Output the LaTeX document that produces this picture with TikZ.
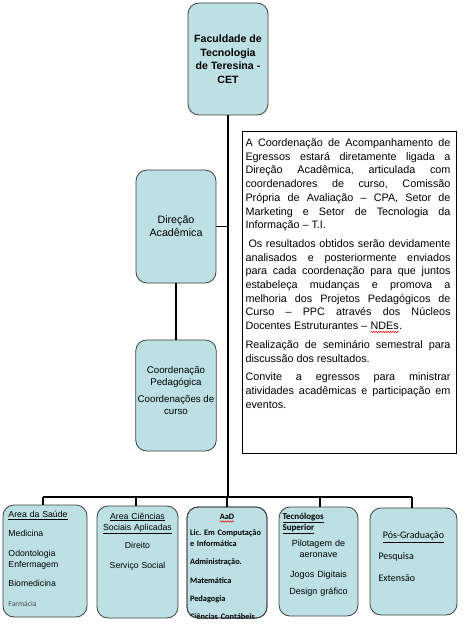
\documentclass[tikz,border=0pt]{standalone}
\usepackage{fontspec}
\setmainfont{Liberation Sans}
\newfontfamily\calibri{Carlito}
\usepackage{xcolor}
\usepackage{tikz}
\usetikzlibrary{positioning, calc, decorations.pathmorphing}

\definecolor{boxfill}{RGB}{188,224,228}
\frenchspacing
% red spell-check squiggle under a word
\newcommand\redwave[2]{\tikz[baseline=(#1.base), x=1pt, y=1pt]{%
  \node[inner sep=0pt, outer sep=0pt] (#1) {#2};
  \draw[red, line width=0.5pt, decorate,
    decoration={snake, amplitude=0.7pt, segment length=2.4pt}]
    ([yshift=-2.3pt]#1.base west) -- ([yshift=-2.3pt]#1.base east);}}

\begin{document}
\begin{tikzpicture}[
  x=1pt, y=-1pt,
  unit/.style={draw=black!75, line width=0.8pt, fill=boxfill,
    rounded corners=11pt, inner sep=2pt, align=center},
  course/.style={unit, minimum height=110},
  coursetxt/.style={inner sep=0pt, anchor=north,
    font=\fontsize{8.7}{11}\selectfont},
  trunk/.style={line width=2.6pt},
  branch/.style={line width=1.3pt},
]
  \useasboundingbox (0,0) rectangle (472,628);

  % Top of the chart
  \node[unit, minimum width=80, minimum height=112,
    font=\bfseries\fontsize{10.6}{13.5}\selectfont] (cet) at (228,59)
    {Faculdade de\\Tecnologia\\de Teresina -\\CET};
  \node[unit, minimum width=80, minimum height=113,
    font=\fontsize{10.7}{13}\selectfont] (dir) at (176,226.5)
    {Direção\\Acadêmica};
  \node[unit, minimum width=80, minimum height=111,
    font=\fontsize{9.7}{12}\selectfont] (coord) at (176,395.5)
    {Coordenação\\Pedagógica\\[5pt]Coordenações de\\curso\\[-1pt]};

  % Text box on the right
  \node[draw, line width=1pt, minimum width=214, minimum height=321,
    inner sep=0pt] (note) at (349,292.5) {};
  \node[inner sep=0pt, anchor=north, text width=205, align=justify,
    font=\fontsize{10.8}{13.7}\selectfont] (notetxt)
    at ([xshift=-1pt, yshift=-7pt]note.north)
    {\hyphenpenalty=10000 \exhyphenpenalty=10000
     A Coordenação de Acompanhamento de\linebreak
     Egressos estará diretamente ligada a\linebreak
     Direção Acadêmica, articulada com\linebreak
     coordenadores de curso, Comissão\linebreak
     Própria de Avaliação – CPA, Setor de\linebreak
     Marketing e Setor de Tecnologia da\linebreak
     Informação – T.I.\par\vspace{5pt}
     \hspace*{3pt}Os resultados obtidos serão devidamente\linebreak
     analisados e posteriormente enviados\linebreak
     para cada coordenação para que juntos\linebreak
     estabeleça mudanças e promova a\linebreak
     melhoria dos Projetos Pedagógicos de\linebreak
     Curso – PPC através dos Núcleos\linebreak
     Docentes Estruturantes – \redwave{ndes}{NDEs}.\par\vspace{5pt}
     Realização de seminário semestral para\linebreak
     discussão dos resultados.\par\vspace{5pt}
     Convite a egressos para ministrar\linebreak
     atividades acadêmicas e participação em\linebreak
     eventos.\par};

  % Course areas
  \node[course, minimum width=84, minimum height=112] (b1) at (45,561) {};
  \node[course, minimum width=81, minimum height=112] (b2) at (137.5,562) {};
  \node[course, minimum width=80, minimum height=111] (b3) at (227,562.5) {};
  \node[course, minimum width=79, minimum height=109] (b4) at (318.5,561.5) {};
  \node[course, minimum width=87, minimum height=107] (b5) at (413.5,561.5) {};

  \node[coursetxt, text width=76, xshift=1.5pt, yshift=-6.5pt] (t1) at (b1.north)
    {\raggedright\underline{Area da Saúde}\\[8pt]Medicina\\[8.5pt]Odontologia\\
     Enfermagem\\[8pt]Biomedicina\\[9pt]%
     {\calibri\fontsize{7.6}{9}\selectfont\color{black!70}Farmácia}\par};
  \node[coursetxt, text width=76, yshift=-7pt] (t2) at (b2.north)
    {\centering\underline{Area Ciências}\\\underline{Sociais Aplicadas}\\[7pt]%
     Direito\\[9pt]Serviço Social\par};
  \begin{scope}
    \clip[rounded corners=11pt] (b3.north west) rectangle (b3.south east);
    \node[coursetxt, text width=74, yshift=-7pt,
      font=\calibri\bfseries\fontsize{8.3}{10.5}\selectfont] (t3) at (b3.north)
      {{\centering\redwave{aad}{AaD}\par}\vspace{6pt}
       {\raggedright Lic. Em Computação\\e Informática\\[8pt]%
        Administração.\\[8pt]Matemática\\[8pt]Pedagogia\\[7.5pt]%
        Ciências Contábeis\par}};
  \end{scope}
  \node[unit, fill=none, minimum width=80, minimum height=111] (b3edge)
    at (b3) {};
  \node[coursetxt, text width=72, yshift=-6pt,
    font=\fontsize{9}{11.5}\selectfont] (t4) at (b4.north)
    {{\calibri\bfseries\raggedright\underline{Tecnólogos}\\\underline{Superior}\par}
     \vspace{4pt}
     {\centering Pilotagem de\\aeronave\\[8pt]Jogos Digitais\\[6pt]%
      Design gráfico\par}};
  \node[coursetxt, text width=70, yshift=-24pt,
    font=\calibri\fontsize{10}{12}\selectfont] (t5) at (b5.north)
    {{\centering\underline{Pós-Graduação}\par}\vspace{9pt}
     {\raggedright Pesquisa\\[10pt]Extensão\par}};

  % Connectors
  \coordinate (bus) at (228,497);
  \draw[trunk] (cet.south) -- (bus);
  \draw[branch] (dir.east) -- (dir.east -| cet.south);
  \draw[branch] (dir.south) -- (coord.north);
  \draw[line width=2pt] ([xshift=-2pt]b1.north |- bus) -- ([xshift=-1.5pt]b5.north |- bus);
  \foreach \b/\dx in {b1/-2, b2/-1.5, b3/0, b4/1.5, b5/-1.5}
    \draw[branch] ([xshift=\dx pt]\b.north) -- ([xshift=\dx pt]\b.north |- bus);
\end{tikzpicture}
\end{document}
